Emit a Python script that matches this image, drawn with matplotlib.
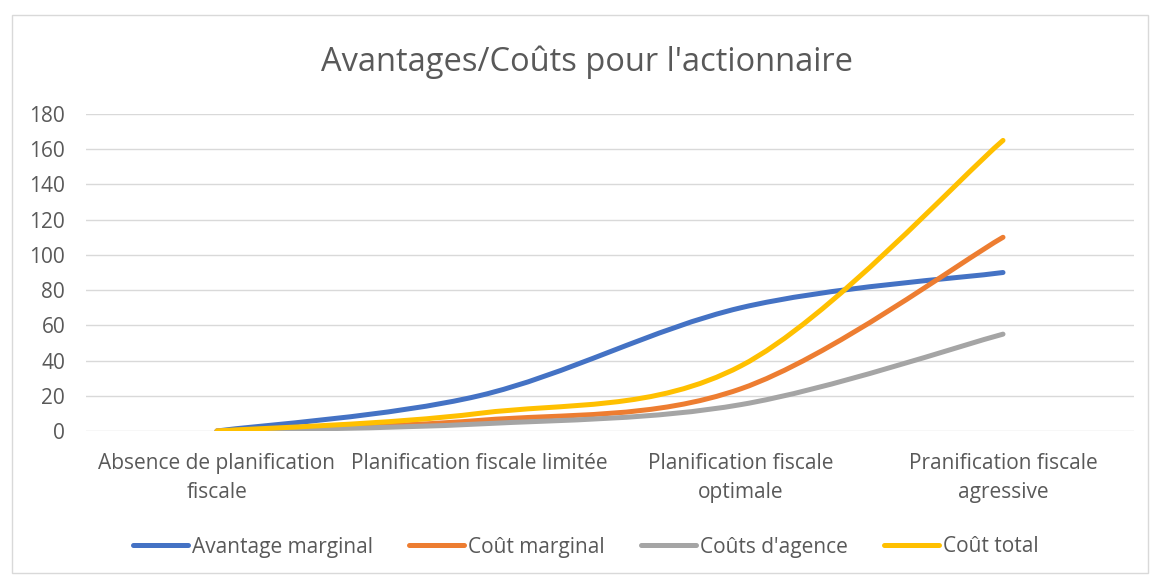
import numpy as np
import matplotlib.pyplot as plt
from matplotlib.path import Path
from matplotlib.patches import PathPatch, Rectangle
from matplotlib.lines import Line2D

plt.rcParams['font.family'] = ['Open Sans', 'DejaVu Sans']

categories = ['Absence de planification\nfiscale', 'Planification fiscale limitée',
              'Planification fiscale\noptimale', 'Pranification fiscale\nagressive']
avantage_marginal = [0, 20, 70, 90]
cout_marginal = [0, 6, 24, 110]
couts_agence = [0, 4, 15, 55]
cout_total = [0, 10, 37, 165]

series = [
    ('Avantage marginal', avantage_marginal, '#4472C4'),
    ('Coût marginal', cout_marginal, '#ED7D31'),
    ("Coûts d'agence", couts_agence, '#A5A5A5'),
    ('Coût total', cout_total, '#FFC000'),
]


def smooth_path(xs, ys, t=1/6):
    # bezier like excel smoothed lines
    pts = np.column_stack([xs, ys]).astype(float)
    verts = [pts[0]]
    codes = [Path.MOVETO]
    n = len(pts)
    for i in range(n - 1):
        p0 = pts[i - 1] if i > 0 else pts[i]
        p1 = pts[i]
        p2 = pts[i + 1]
        p3 = pts[i + 2] if i + 2 < n else pts[i + 1]
        c1 = p1 + (p2 - p0) * t
        c2 = p2 - (p3 - p1) * t
        verts += [c1, c2, p2]
        codes += [Path.CURVE4] * 3
    return Path(verts, codes)


fig = plt.figure(figsize=(11.51, 5.76), dpi=100)
fig.patches.append(Rectangle((12 / 1151, 3 / 576), 1136 / 1151, 558 / 576,
                             transform=fig.transFigure, fill=False,
                             edgecolor='#d9d9d9', linewidth=1))
ax = fig.add_axes([86 / 1151, 1 - 431 / 576, 1048 / 1151, 317 / 576])

x = np.arange(len(categories))
for name, vals, col in series:
    ax.add_patch(PathPatch(smooth_path(x, vals), fill=False, edgecolor=col,
                           linewidth=3.6, capstyle='round', joinstyle='round', zorder=3))

ax.set_xlim(-0.5, 3.5)
ax.set_ylim(0, 180)
ax.set_yticks(range(0, 181, 20))
ax.set_xticks(x)
ax.set_xticklabels(categories)
ax.grid(axis='y', color='#d9d9d9', linewidth=1)
ax.set_axisbelow(True)
for s in ax.spines.values():
    s.set_visible(False)
ax.tick_params(length=0, labelsize=15, colors='#595959', pad=15)
ax.tick_params(axis='x', pad=16)
for lab in ax.get_xticklabels():
    lab.set_linespacing(1.5)

fig.text(587 / 1151, 1 - 62 / 576, "Avantages/Coûts pour l'actionnaire",
         ha='center', va='center', fontsize=23.5, color='#595959')

handles = [Line2D([], [], color=c, linewidth=3.6, solid_capstyle='round') for _, _, c in series]
fig.legend(handles, [s[0] for s in series], loc='center', bbox_to_anchor=(586 / 1151, 1 - 547 / 576),
           ncol=4, frameon=False, fontsize=15, labelcolor='#595959',
           handlelength=2.64, handletextpad=0.2, columnspacing=1.73)

fig.savefig('out.png', dpi=100)
